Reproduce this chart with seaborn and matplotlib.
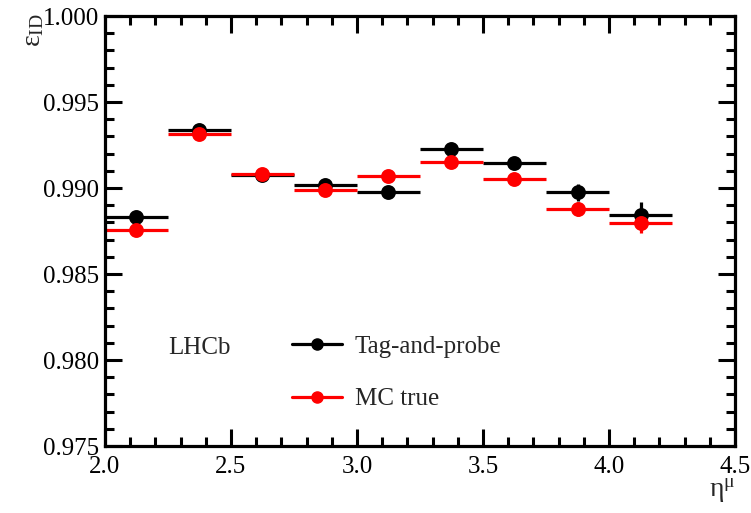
import numpy as np
import matplotlib
matplotlib.use("Agg")
import matplotlib.pyplot as plt
import seaborn as sns
from matplotlib.lines import Line2D
from matplotlib.ticker import MultipleLocator, FormatStrFormatter

# bins de eta (centros) y eficiencias
eta_centros = [2.125, 2.375, 2.625, 2.875, 3.125, 3.375, 3.625, 3.875, 4.125]
ancho_bin = 0.125

tag_probe = [0.98831, 0.99337, 0.99076, 0.99017, 0.98975, 0.99227, 0.99147, 0.98975, 0.98843]
tag_probe_err = [0.0001, 0.0001, 0.0001, 0.0001, 0.0001, 0.0001, 0.00015, 0.0005, 0.00074]

mc_true = [0.98756, 0.99314, 0.99081, 0.98988, 0.99068, 0.99153, 0.99052, 0.98876, 0.98798]
mc_true_err = [0.0001, 0.0001, 0.0001, 0.0001, 0.0001, 0.0001, 0.0001, 0.0004, 0.0006]

sns.set_style("ticks")
plt.rcParams['font.family'] = ['Liberation Serif', 'DejaVu Serif']
plt.rcParams['mathtext.fontset'] = 'stix'

fig, ax = plt.subplots(figsize=(7.51, 5.13), dpi=100)
fig.subplots_adjust(left=0.1398, right=0.9787, top=0.9688, bottom=0.1306)

series = [
    (tag_probe, tag_probe_err, 'black', 'Tag-and-probe'),
    (mc_true, mc_true_err, 'red', 'MC true'),
]
for vals, errs, color, nombre in series:
    ax.errorbar(eta_centros, vals, xerr=ancho_bin, yerr=errs, fmt='none',
                ecolor=color, elinewidth=2.3, capsize=0, zorder=2)
    sns.scatterplot(x=eta_centros, y=vals, color=color, s=115, edgecolor=color,
                    linewidth=0, ax=ax, zorder=3)

ax.set_xlim(2.0, 4.5)
ax.set_ylim(0.975, 1.000)
ax.xaxis.set_major_locator(MultipleLocator(0.5))
ax.xaxis.set_minor_locator(MultipleLocator(0.1))
ax.yaxis.set_major_locator(MultipleLocator(0.005))
ax.yaxis.set_minor_locator(MultipleLocator(0.001))
ax.xaxis.set_major_formatter(FormatStrFormatter('%.1f'))
ax.yaxis.set_major_formatter(FormatStrFormatter('%.3f'))
ax.tick_params(which='both', direction='in', top=True, right=True, width=2.2,
               labelsize=18, pad=4, color='black', labelcolor='black')
ax.tick_params(which='major', length=12)
ax.tick_params(which='minor', length=6.5)
ax.tick_params(axis='x', which='major', pad=7)
for s in ax.spines.values():
    s.set_linewidth(2.3)
    s.set_color('black')
    s.set_visible(True)

fig.text(0.045, 0.975, r'$\mathregular{ε_{ID}}$', rotation=90, ha='center', va='top', fontsize=20)
fig.text(0.98, 0.015, r'$\mathregular{η^{μ}}$', ha='right', va='bottom', fontsize=20)

ax.text(0.1, 0.228, 'LHCb', transform=ax.transAxes, fontsize=18, va='center', ha='left')

handles = [Line2D([0], [0], color=c, lw=2.3, marker='o', ms=8) for _, _, c, _ in series]
labels = [n for _, _, _, n in series]
ax.legend(handles, labels, loc='upper left', bbox_to_anchor=(0.297, 0.257),
          frameon=False, fontsize=18, handlelength=2.0, handletextpad=0.5,
          labelspacing=1.2, borderpad=0, borderaxespad=0)

fig.savefig('out.png', dpi=100)
